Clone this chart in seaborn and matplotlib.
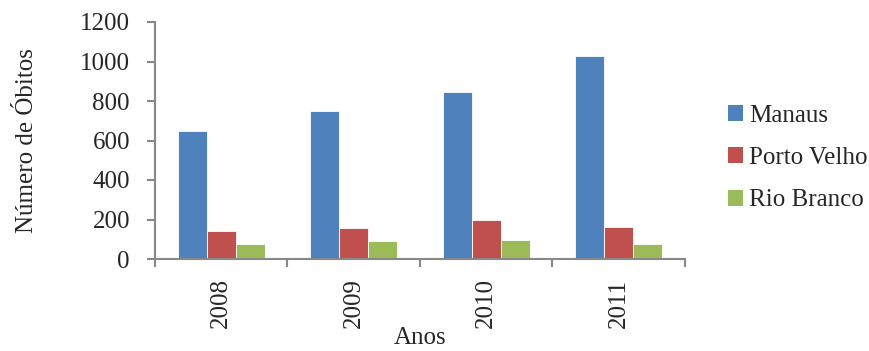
import matplotlib
matplotlib.use("Agg")
import matplotlib.pyplot as plt
import seaborn as sns
import pandas as pd
from matplotlib.patches import Patch
from matplotlib.ticker import FixedLocator

anos = ["2008", "2009", "2010", "2011"]
cidades = ["Manaus", "Porto Velho", "Rio Branco"]
manaus = [646, 748, 848, 1028]
porto_velho = [142, 157, 200, 164]
rio_branco = [76, 93, 98, 76]
cores = ["#4F81BD", "#C0504D", "#9BBB59"]

df = pd.DataFrame({
    "Ano": anos * 3,
    "Cidade": [c for c in cidades for _ in anos],
    "Obitos": manaus + porto_velho + rio_branco,
})

sns.set_theme(style="white")
plt.rcParams["font.family"] = ["Liberation Serif", "DejaVu Serif"]

FS = 18
fig = plt.figure(figsize=(8.7, 3.51), dpi=100)
ax = fig.add_axes([155 / 870, 1 - 259 / 351, 530 / 870, 237 / 351])

sns.barplot(data=df, x="Ano", y="Obitos", hue="Cidade", order=anos,
            hue_order=cidades, palette=cores, saturation=1, width=0.66, ax=ax,
            edgecolor="white", linewidth=0.6, legend=False)

ax.set_xlim(-0.5, 3.5)
ax.set_ylim(0, 1200)
ax.set_yticks(range(0, 1201, 200))
ax.tick_params(axis="y", labelsize=FS, length=6, width=1.5, color="#888888",
               pad=12, direction="out", left=True)

# category boundaries carry the ticks, centres carry the labels
ax.xaxis.set_major_locator(FixedLocator([-0.5, 0.5, 1.5, 2.5, 3.5]))
ax.xaxis.set_minor_locator(FixedLocator([0, 1, 2, 3]))
ax.set_xticklabels([], minor=False)
ax.set_xticklabels(anos, minor=True, rotation=90)
ax.tick_params(axis="x", which="major", length=6, width=1.5, color="#888888",
               direction="out", bottom=True)
ax.tick_params(axis="x", which="minor", length=0, labelsize=FS, pad=14)

for s in ["top", "right"]:
    ax.spines[s].set_visible(False)
for s in ["left", "bottom"]:
    ax.spines[s].set_color("#888888")
    ax.spines[s].set_linewidth(1.5)

ax.set_xlabel("Anos", fontsize=FS, labelpad=-1)
ax.set_ylabel("Número de Óbitos", fontsize=FS, labelpad=30)

handles = [Patch(facecolor=c, edgecolor="none") for c in cores]
fig.legend(handles, cidades, loc="center left", bbox_to_anchor=(716 / 870, 1 - 158 / 351),
           frameon=False, fontsize=FS, handlelength=0.58, handleheight=0.6,
           handletextpad=0.25, labelspacing=0.82, borderpad=0)

fig.savefig("out.png", dpi=100)
